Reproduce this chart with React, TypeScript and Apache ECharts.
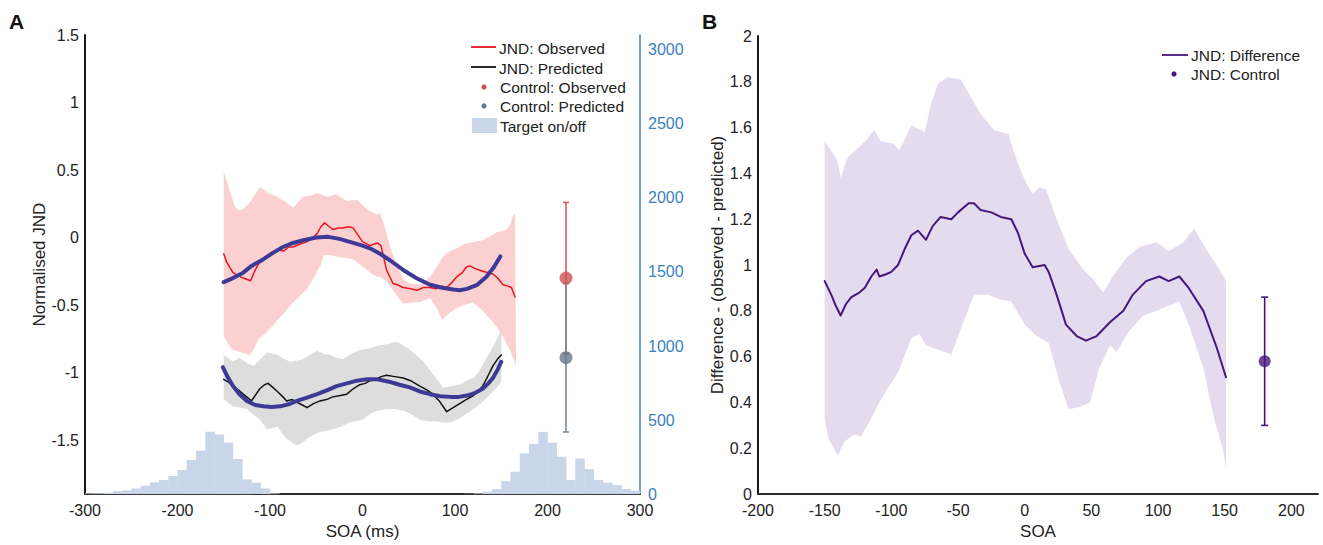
import React, { useEffect, useRef } from "react";
import * as echarts from "echarts";

// ---------- Panel A data (SOA in ms, normalised JND) ----------
const jndObserved: [number, number][] = [
  [-150, -0.12], [-147, -0.18], [-140, -0.26], [-135, -0.28], [-129, -0.3], [-121, -0.32], [-116, -0.24],
  [-111, -0.18], [-107, -0.15], [-100, -0.12], [-92, -0.09], [-85, -0.1], [-80, -0.07], [-75, -0.07],
  [-68, -0.05], [-60, -0.03], [-55, -0.01], [-49, 0.03], [-45, 0.08], [-41, 0.11], [-36, 0.08], [-32, 0.06],
  [-26, 0.07], [-21, 0.07], [-15, 0.08], [-10, 0.07], [-5, 0.02], [0, -0.03], [8, -0.06], [12, -0.05],
  [16, -0.04], [20, -0.06], [23, -0.15], [26, -0.24], [33, -0.34], [38, -0.35], [44, -0.37], [52, -0.38],
  [59, -0.39], [66, -0.37], [73, -0.37], [80, -0.38], [86, -0.36], [91, -0.37], [97, -0.33], [102, -0.29],
  [108, -0.26], [112, -0.22], [116, -0.21], [122, -0.23], [130, -0.25], [136, -0.26], [141, -0.27],
  [146, -0.3], [152, -0.35], [157, -0.36], [161, -0.37], [165, -0.44],
];
const jndObservedUpper: [number, number][] = [
  [-150, 0.49], [-145, 0.38], [-138, 0.23], [-134, 0.2], [-129, 0.21], [-123, 0.25], [-118, 0.3], [-111, 0.37],
  [-106, 0.35], [-102, 0.33], [-92, 0.3], [-82, 0.26], [-75, 0.22], [-70, 0.26], [-65, 0.3], [-57, 0.31],
  [-49, 0.33], [-38, 0.3], [-28, 0.32], [-17, 0.27], [-6, 0.28], [5, 0.21], [12, 0.18], [16, 0.17],
  [19, 0.18], [24, 0.08], [30, -0.07], [37, -0.2], [44, -0.31], [52, -0.34], [62, -0.35], [73, -0.29],
  [80, -0.22], [87, -0.14], [95, -0.1], [102, -0.08], [109, -0.05], [116, -0.04], [123, -0.03],
  [130, -0.02], [138, 0.01], [145, 0.04], [152, 0.05], [156, 0.06], [160, 0.1], [163, 0.17], [165, 0.17],
];
const jndObservedLower: [number, number][] = [
  [-150, -0.73], [-145, -0.79], [-141, -0.83], [-132, -0.85], [-122, -0.87], [-117, -0.82], [-112, -0.75],
  [-105, -0.71], [-98, -0.66], [-92, -0.61], [-85, -0.56], [-78, -0.5], [-70, -0.45], [-60, -0.38],
  [-52, -0.29], [-45, -0.2], [-42, -0.13], [-35, -0.13], [-28, -0.14], [-20, -0.15], [-10, -0.16],
  [-3, -0.2], [5, -0.24], [10, -0.27], [16, -0.29], [19, -0.29], [25, -0.32], [30, -0.36], [37, -0.43],
  [44, -0.49], [53, -0.48], [62, -0.48], [68, -0.46], [73, -0.45], [80, -0.52], [86, -0.61], [92, -0.57],
  [100, -0.53], [110, -0.5], [119, -0.48], [128, -0.53], [139, -0.61], [146, -0.67], [153, -0.75],
  [160, -0.84], [166, -0.95],
];
const jndObservedFit: [number, number][] = [
  [-150, -0.33], [-140, -0.3], [-129, -0.26], [-120, -0.21], [-107, -0.16], [-96, -0.11], [-86, -0.07],
  [-75, -0.04], [-64, -0.02], [-50, 0.0], [-37, 0.005], [-25, -0.01], [-10, -0.04], [0, -0.06], [8, -0.08],
  [19, -0.12], [30, -0.17], [44, -0.24], [58, -0.3], [73, -0.35], [85, -0.37], [98, -0.385], [105, -0.39],
  [113, -0.38], [124, -0.35], [134, -0.29], [142, -0.22], [149, -0.14],
];
const jndPredicted: [number, number][] = [
  [-150, -1.05], [-145, -1.07], [-140, -1.1], [-134, -1.13], [-129, -1.16], [-120, -1.21], [-115, -1.16],
  [-111, -1.12], [-106, -1.09], [-102, -1.08], [-97, -1.11], [-92, -1.14], [-86, -1.18], [-82, -1.21],
  [-76, -1.2], [-71, -1.22], [-65, -1.24], [-60, -1.26], [-53, -1.23], [-46, -1.21], [-39, -1.2],
  [-32, -1.18], [-24, -1.17], [-17, -1.16], [-10, -1.12], [-3, -1.09], [3, -1.08], [8, -1.06], [15, -1.05],
  [20, -1.03], [26, -1.02], [35, -1.03], [44, -1.04], [52, -1.06], [62, -1.1], [70, -1.13], [76, -1.16],
  [83, -1.21], [91, -1.29], [98, -1.26], [105, -1.23], [112, -1.2], [120, -1.17], [125, -1.14],
  [130, -1.1], [136, -1.02], [141, -0.95], [146, -0.9], [150, -0.87],
];
const jndPredictedUpper: [number, number][] = [
  [-150, -0.87], [-140, -0.92], [-133, -0.89], [-125, -0.93], [-118, -0.95], [-110, -0.9], [-103, -0.85],
  [-92, -0.87], [-85, -0.9], [-78, -0.92], [-70, -0.91], [-64, -0.9], [-57, -0.87], [-49, -0.84],
  [-42, -0.86], [-35, -0.87], [-28, -0.89], [-21, -0.9], [-14, -0.87], [-6, -0.84], [0, -0.83], [8, -0.82],
  [17, -0.8], [26, -0.79], [37, -0.77], [44, -0.8], [51, -0.83], [58, -0.87], [66, -0.92], [76, -1.01],
  [82, -1.06], [87, -1.11], [96, -1.1], [105, -1.09], [112, -1.06], [120, -1.04], [126, -0.99],
  [130, -0.94], [136, -0.87], [141, -0.81], [146, -0.74], [150, -0.68],
];
const jndPredictedLower: [number, number][] = [
  [-150, -1.2], [-140, -1.25], [-125, -1.27], [-118, -1.31], [-111, -1.35], [-103, -1.42], [-97, -1.41],
  [-92, -1.4], [-87, -1.45], [-82, -1.49], [-76, -1.52], [-71, -1.54], [-65, -1.52], [-60, -1.49],
  [-53, -1.46], [-46, -1.44], [-39, -1.43], [-32, -1.42], [-23, -1.4], [-14, -1.37], [0, -1.35],
  [10, -1.3], [18, -1.28], [26, -1.27], [35, -1.27], [44, -1.28], [53, -1.31], [62, -1.35], [70, -1.36],
  [80, -1.36], [88, -1.37], [95, -1.37], [102, -1.35], [109, -1.32], [116, -1.29], [124, -1.25],
  [131, -1.21], [138, -1.16], [144, -1.12], [150, -1.07],
];
const jndPredictedFit: [number, number][] = [
  [-151, -0.96], [-146, -1.03], [-140, -1.1], [-133, -1.16], [-125, -1.21], [-116, -1.24], [-107, -1.25],
  [-98, -1.255], [-89, -1.25], [-80, -1.235], [-71, -1.21], [-60, -1.185], [-49, -1.16], [-38, -1.13],
  [-28, -1.1], [-17, -1.08], [-6, -1.06], [5, -1.05], [16, -1.05], [30, -1.07], [40, -1.09], [51, -1.11],
  [62, -1.14], [73, -1.16], [84, -1.175], [95, -1.18], [104, -1.18], [113, -1.17], [122, -1.15],
  [130, -1.12], [136, -1.08], [141, -1.04], [146, -0.98], [150, -0.92],
];

// Control condition (SOA position, mean, error)
const controlX = 220;
const controlObserved = { mean: -0.3, low: -0.86, high: 0.26 };
const controlPredicted = { mean: -0.89, low: -1.44, high: -0.34 };

// Target on/off histogram (bin start in ms, count) - 10 ms bins
const BIN_WIDTH = 10;
const histBinStarts: number[] = [
  -300, -290, -280, -270, -260, -250, -240, -230, -220, -210, -200, -190, -180, -170, -160, -150, -140,
  -130, -120, -110, -100, 110, 120, 130, 140, 150, 160, 170, 180, 190, 200, 210, 220, 230, 240, 250,
  260, 270, 280, 290,
];
const histCounts: number[] = [
  5, 6, 9, 20, 25, 38, 56, 79, 95, 122, 162, 230, 293, 421, 403, 347, 237, 99, 77, 38, 5, 2, 5, 16, 34,
  88, 151, 275, 338, 420, 347, 252, 95, 241, 169, 95, 77, 61, 34, 23,
];

// Axis ticks
const axA_xTicks = [-300, -200, -100, 0, 100, 200, 300];
const axA_yTicks = [-1.5, -1, -0.5, 0, 0.5, 1, 1.5];
const axA_y2Ticks = [0, 500, 1000, 1500, 2000, 2500, 3000];
const axB_xTicks = [-200, -150, -100, -50, 0, 50, 100, 150, 200];

// ---------- Panel B data ----------
const jndDifference: [number, number][] = [
  [-150, 0.93], [-145, 0.87], [-141.5, 0.82], [-138, 0.78], [-134, 0.83], [-130, 0.86], [-124, 0.88],
  [-120, 0.9], [-115, 0.95], [-111, 0.98], [-109, 0.95], [-104, 0.96], [-100, 0.97], [-95, 1.0],
  [-90, 1.07], [-85, 1.13], [-80, 1.15], [-74, 1.11], [-69, 1.17], [-63, 1.21], [-55, 1.2], [-50, 1.23],
  [-42, 1.27], [-38, 1.27], [-33, 1.24], [-25, 1.23], [-18, 1.21], [-10, 1.2], [-5, 1.14], [0, 1.05],
  [6, 0.99], [15, 1.0], [18, 0.97], [24, 0.87], [31, 0.74], [39, 0.69], [46, 0.67], [54, 0.69], [64, 0.75],
  [74, 0.8], [81, 0.87], [91, 0.93], [101, 0.95], [108, 0.93], [116, 0.95], [123, 0.9], [134, 0.8],
  [144, 0.64], [151, 0.51],
];
const jndDifferenceUpper: [number, number][] = [
  [-150, 1.54], [-144, 1.49], [-140, 1.45], [-138, 1.38], [-133, 1.47], [-125, 1.51], [-118, 1.55],
  [-113, 1.59], [-108, 1.54], [-98, 1.53], [-94, 1.5], [-85, 1.61], [-75, 1.58], [-70, 1.71], [-65, 1.79],
  [-58, 1.82], [-48, 1.81], [-43, 1.76], [-33, 1.66], [-23, 1.59], [-12, 1.57], [-8, 1.49], [-2, 1.4],
  [1, 1.36], [6, 1.31], [11, 1.34], [16, 1.33], [24, 1.2], [33, 1.07], [44, 0.98], [51, 0.94], [59, 0.88],
  [66, 0.95], [76, 1.03], [86, 1.08], [99, 1.1], [108, 1.06], [119, 1.1], [127, 1.16], [136, 1.07],
  [144, 1.0], [151, 0.93],
];
const jndDifferenceLower: [number, number][] = [
  [-150, 0.33], [-147, 0.24], [-140, 0.17], [-135, 0.23], [-128, 0.26], [-123, 0.25], [-116, 0.32],
  [-110, 0.39], [-103, 0.46], [-95, 0.53], [-85, 0.68], [-79, 0.7], [-74, 0.65], [-65, 0.63], [-55, 0.61],
  [-48, 0.72], [-38, 0.87], [-28, 0.87], [-18, 0.85], [-10, 0.84], [-6, 0.8], [0, 0.74], [9, 0.69],
  [18, 0.66], [26, 0.49], [33, 0.37], [41, 0.38], [49, 0.4], [56, 0.55], [64, 0.65], [69, 0.62],
  [78, 0.71], [89, 0.78], [99, 0.8], [107, 0.82], [116, 0.84], [123, 0.74], [134, 0.55], [142, 0.33],
  [149, 0.19], [151, 0.11],
];
const controlBX = 180;
const controlB = { mean: 0.58, low: 0.3, high: 0.86 };

// ---------- styling ----------
const FONT = '"Liberation Sans", Arial, Helvetica, sans-serif';
const TXT = "#222";
const RED = "#e8161d";
const FIT = "#3d3a96";
const PURPLE = "#45177f";
const BLUE_AX = "#3b7fc0";

function bandSeries(upper: [number, number][], lower: [number, number][], color: string, gridIdx: number) {
  return {
    type: "custom",
    xAxisIndex: gridIdx === 0 ? 0 : 1,
    yAxisIndex: gridIdx === 0 ? 0 : 2,
    silent: true,
    data: [[upper[0][0], upper[0][1]]],
    renderItem: (params: any, api: any) => {
      const pts = [
        ...upper.map((p) => api.coord(p)),
        ...lower.slice().reverse().map((p) => api.coord(p)),
      ];
      return { type: "polygon", shape: { points: pts }, style: { fill: color } };
    },
    z: 1,
  };
}

function errorBarSeries(x: number, low: number, high: number, color: string, xi: number, yi: number, cap: number) {
  return {
    type: "custom",
    xAxisIndex: xi,
    yAxisIndex: yi,
    silent: true,
    dimensions: ["x", "low", "high"],
    encode: { x: 0, y: [1, 2] },
    data: [[x, low, high]],
    renderItem: (params: any, api: any) => {
      const pLow = api.coord([api.value(0), api.value(1)]);
      const pHigh = api.coord([api.value(0), api.value(2)]);
      const st = { stroke: color, lineWidth: 1.6 };
      return {
        type: "group",
        children: [
          { type: "line", shape: { x1: pLow[0], y1: pLow[1], x2: pHigh[0], y2: pHigh[1] }, style: st },
          { type: "line", shape: { x1: pLow[0] - cap, y1: pLow[1], x2: pLow[0] + cap, y2: pLow[1] }, style: st },
          { type: "line", shape: { x1: pHigh[0] - cap, y1: pHigh[1], x2: pHigh[0] + cap, y2: pHigh[1] }, style: st },
        ],
      };
    },
    z: 5,
  };
}

function lineSeries(data: [number, number][], color: string, width: number, xi: number, yi: number, z: number) {
  return {
    type: "line",
    xAxisIndex: xi,
    yAxisIndex: yi,
    data,
    symbol: "none",
    silent: true,
    lineStyle: { color, width, cap: "round", join: "round" },
    z,
  };
}

const tickLabel = { color: TXT, fontSize: 16, fontFamily: FONT };
const nameStyle = { color: TXT, fontSize: 17, fontFamily: FONT };
const plain = (v: number) => String(v);

export default function App() {
  const ref = useRef<HTMLDivElement>(null);
  useEffect(() => {
    if (!ref.current) return;
    const chart = echarts.init(ref.current, null, { renderer: "svg" });
    const histData = histBinStarts.map((s, i) => [s, histCounts[i]]);

    const legendText = (x: number, y: number, text: string) => ({
      type: "text",
      x,
      y,
      style: { text, fill: TXT, font: `15.5px ${FONT}`, textVerticalAlign: "middle", textAlign: "left" },
    });

    const option: any = {
      animation: false,
      backgroundColor: "#ffffff",
      grid: [
        { left: 85, top: 35, width: 555, height: 460 },
        { left: 758, top: 36, width: 560, height: 460 },
      ],
      xAxis: [
        {
          type: "value",
          gridIndex: 0,
          min: -300,
          max: 300,
          interval: 100,
          name: "SOA (ms)",
          nameLocation: "middle",
          nameGap: 28,
          nameTextStyle: nameStyle,
          axisLine: { show: true, onZero: false, lineStyle: { color: "#2a2a2a", width: 2 } },
          axisTick: { show: false },
          splitLine: { show: false },
          axisLabel: { ...tickLabel, margin: 8, customValues: axA_xTicks, formatter: plain },
        },
        {
          type: "value",
          gridIndex: 1,
          min: -200,
          max: 220,
          name: "SOA",
          nameLocation: "middle",
          nameGap: 28,
          nameTextStyle: nameStyle,
          axisLine: { show: true, onZero: false, lineStyle: { color: "#2a2a2a", width: 2 } },
          axisTick: { show: false },
          splitLine: { show: false },
          axisLabel: { ...tickLabel, margin: 8, customValues: axB_xTicks, formatter: plain },
        },
      ],
      yAxis: [
        {
          type: "value",
          gridIndex: 0,
          min: -1.9,
          max: 1.5,
          name: "Normalised JND",
          nameLocation: "middle",
          nameGap: 37,
          nameTextStyle: nameStyle,
          axisLine: { show: true, onZero: false, lineStyle: { color: "#1a1a1a", width: 2 } },
          axisTick: { show: false },
          splitLine: { show: false },
          axisLabel: { ...tickLabel, margin: 6, customValues: axA_yTicks, formatter: plain },
        },
        {
          type: "value",
          gridIndex: 0,
          position: "right",
          min: 0,
          max: 3100,
          axisLine: { show: true, onZero: false, lineStyle: { color: BLUE_AX, width: 1.5 } },
          axisTick: { show: false },
          splitLine: { show: false },
          axisLabel: { ...tickLabel, color: BLUE_AX, margin: 8, customValues: axA_y2Ticks, formatter: plain },
        },
        {
          type: "value",
          gridIndex: 1,
          min: 0,
          max: 2,
          interval: 0.2,
          name: "Difference - (observed - predicted)",
          nameLocation: "middle",
          nameGap: 31,
          nameTextStyle: nameStyle,
          axisLine: { show: true, onZero: false, lineStyle: { color: "#1a1a1a", width: 2 } },
          axisTick: { show: false },
          splitLine: { show: false },
          axisLabel: { ...tickLabel, margin: 6, formatter: (v: number) => String(Math.round(v * 10) / 10) },
        },
      ],
      series: [
        bandSeries(jndObservedUpper, jndObservedLower, "rgba(250,200,200,0.85)", 0),
        bandSeries(jndPredictedUpper, jndPredictedLower, "rgba(215,215,215,0.85)", 0),
        {
          type: "custom",
          xAxisIndex: 0,
          yAxisIndex: 1,
          silent: true,
          data: histData,
          renderItem: (params: any, api: any) => {
            const p0 = api.coord([api.value(0), 0]);
            const p1 = api.coord([api.value(0) + BIN_WIDTH, api.value(1)]);
            return {
              type: "rect",
              shape: { x: p0[0], y: p1[1], width: p1[0] - p0[0] + 0.3, height: p0[1] - p1[1] },
              style: { fill: "#c9d5e8" },
            };
          },
          z: 2,
        },
        lineSeries(jndObserved, RED, 1.5, 0, 0, 3),
        lineSeries(jndPredicted, "#111111", 1.5, 0, 0, 3),
        lineSeries(jndObservedFit, FIT, 4, 0, 0, 4),
        lineSeries(jndPredictedFit, FIT, 4, 0, 0, 4),
        errorBarSeries(controlX, controlObserved.low, controlObserved.high, "#d25a5a", 0, 0, 3),
        errorBarSeries(controlX, controlPredicted.low, controlPredicted.high, "#7d8a99", 0, 0, 3),
        {
          type: "scatter",
          xAxisIndex: 0,
          yAxisIndex: 0,
          silent: true,
          symbolSize: 13,
          data: [
            { value: [controlX, controlObserved.mean], itemStyle: { color: "#cc5352" } },
            { value: [controlX, controlPredicted.mean], itemStyle: { color: "#67788b" } },
          ],
          z: 6,
        },
        // Panel B
        bandSeries(jndDifferenceUpper, jndDifferenceLower, "#e4dbef", 1),
        lineSeries(jndDifference, PURPLE, 2, 1, 2, 3),
        errorBarSeries(controlBX, controlB.low, controlB.high, PURPLE, 1, 2, 3.5),
        {
          type: "scatter",
          xAxisIndex: 1,
          yAxisIndex: 2,
          silent: true,
          symbolSize: 12,
          data: [[controlBX, controlB.mean]],
          itemStyle: { color: PURPLE },
          z: 6,
        },
      ],
      graphic: [
        { type: "text", x: 9, y: 21, style: { text: "A", fill: "#111", font: `bold 21px ${FONT}`, textVerticalAlign: "middle" } },
        { type: "text", x: 702, y: 21, style: { text: "B", fill: "#111", font: `bold 21px ${FONT}`, textVerticalAlign: "middle" } },
        // Legend A
        { type: "line", shape: { x1: 471, y1: 47, x2: 496, y2: 47 }, style: { stroke: RED, lineWidth: 1.8 } },
        legendText(499, 48, "JND: Observed"),
        { type: "line", shape: { x1: 471, y1: 67, x2: 496, y2: 67 }, style: { stroke: "#111", lineWidth: 1.8 } },
        legendText(499, 68, "JND: Predicted"),
        { type: "circle", shape: { cx: 484, cy: 87, r: 2.6 }, style: { fill: "#cc5352" } },
        legendText(500, 87, "Control: Observed"),
        { type: "circle", shape: { cx: 484, cy: 106, r: 2.6 }, style: { fill: "#67788b" } },
        legendText(500, 106, "Control: Predicted"),
        { type: "rect", shape: { x: 472, y: 118, width: 25, height: 15 }, style: { fill: "#c9d5e8" } },
        legendText(500, 126, "Target on/off"),
        // Legend B
        { type: "line", shape: { x1: 1162, y1: 55, x2: 1188, y2: 55 }, style: { stroke: PURPLE, lineWidth: 1.8 } },
        legendText(1191, 55, "JND: Difference"),
        { type: "circle", shape: { cx: 1174, cy: 74, r: 2.6 }, style: { fill: PURPLE } },
        legendText(1191, 74, "JND: Control"),
      ],
    };
    chart.setOption(option);
    return () => chart.dispose();
  }, []);

  return (
    <div
      ref={ref}
      style={{ position: "fixed", left: 0, top: 0, width: 1323, height: 545, background: "#fff" }}
    />
  );
}
